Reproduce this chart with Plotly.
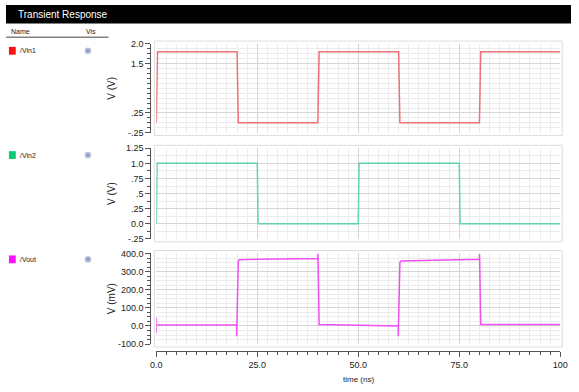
import copy
import plotly.graph_objects as go

W, H = 579, 392

# ---- data ----
vin1_t = [0, 0.3, 20, 20.3, 40, 40.3, 60, 60.3, 80, 80.3, 100]
vin1_v = [0, 1.8, 1.8, 0, 0, 1.8, 1.8, 0, 0, 1.8, 1.8]

vin2_t = [0, 0.2, 25, 25.2, 50, 50.2, 75, 75.2, 100]
vin2_v = [0, 1.0, 1.0, 0, 0, 1.0, 1.0, 0, 0]

vout_t = [0, 0, 0, 0.3, 19.9, 19.9, 20.3, 20.6, 25, 40, 40, 40.05, 40.3, 50, 59.9, 59.9, 60.3, 60.6, 70,
          80, 80, 80.05, 80.3, 100]
vout_v = [-40, 45, 5, 5, 5, -57, 360, 365, 368, 372, 398, 372, 8, 4, 0, -57, 350, 358, 362,
          368, 398, 368, 8, 8]

x_ticks = [0, 25, 50, 75, 100]
x_labels = ["0.0", "25.0", "50.0", "75.0", "100"]
y1_ticks = [2.0, 1.5, 0.25, -0.25]
y1_labels = ["2.0", "1.5", ".25", "-.25"]
y2_ticks = [1.25, 1.0, 0.75, 0.5, 0.25, 0.0, -0.25]
y2_labels = ["1.25", "1.0", ".75", ".5", ".25", "0.0", "-.25"]
y3_ticks = [400, 300, 200, 100, 0, -100]
y3_labels = ["400.0", "300.0", "200.0", "100.0", "0.0", "-100.0"]

names = ["/Vin1", "/Vin2", "/Vout"]
line_colors = ["#f07078", "#62d4a8", "#f050f0"]
swatch_colors = ["#ff1010", "#10c878", "#ff10ff"]

FONT = "Liberation Sans, Arial, sans-serif"

def px(x):
    return x / W

def py(y):
    return 1 - y / H

xl, xr = 154, 568
panels = [(40, 131), (147, 240), (255, 348)]

fig = go.Figure()
axes_pairs = [("x2", "y"), ("x3", "y2"), ("x", "y3")]
series = [(vin1_t, vin1_v), (vin2_t, vin2_v), (vout_t, vout_v)]
for i, (t, v) in enumerate(series):
    fig.add_trace(go.Scatter(x=t, y=v, mode="lines", line=dict(color=line_colors[i], width=1.5),
                             xaxis=axes_pairs[i][0], yaxis=axes_pairs[i][1],
                             showlegend=False, hoverinfo="skip"))

grid_minor = "#ececec"
grid_major = "#d4d4d4"
axcol = "#555555"

xdom = [px(xl), px(xr)]
def common_x():
    return dict(range=[0, 100], domain=xdom, showgrid=True, gridcolor=grid_major, gridwidth=1,
                tickvals=x_ticks, zeroline=False,
                minor=dict(dtick=2.5, showgrid=True, gridcolor=grid_minor))

xa = common_x()
xa.update(anchor="free", position=py(355), ticktext=x_labels,
          showline=True, linecolor=axcol, ticks="outside", ticklen=5, tickcolor=axcol,
          tickfont=dict(size=9))
xa["minor"].update(ticks="outside", ticklen=3, tickcolor=axcol)
xa2 = common_x(); xa2.update(anchor="y", matches="x", showticklabels=False, ticks="")
xa3 = common_x(); xa3.update(anchor="y2", matches="x", showticklabels=False, ticks="")

layout = dict(
    width=W, height=H, margin=dict(l=0, r=0, t=0, b=0),
    paper_bgcolor="white", plot_bgcolor="white",
    font=dict(family=FONT, size=9, color="#222"),
    xaxis=xa, xaxis2=xa2, xaxis3=xa3,
)

yspecs = [([-0.25, 2.0], y1_ticks, y1_labels, 0.125),
          ([-0.25, 1.25], y2_ticks, y2_labels, 0.125),
          ([-100, 400], y3_ticks, y3_labels, 25)]
for i, (rng, tv, tt, mdt) in enumerate(yspecs):
    top, bot = panels[i]
    key = "yaxis" if i == 0 else f"yaxis{i+1}"
    layout[key] = dict(range=rng, domain=[py(bot), py(top)], anchor="free", position=px(148),
                       tickvals=tv, ticktext=tt, showgrid=True, gridcolor=grid_major, zeroline=False,
                       showline=True, linecolor=axcol, ticks="outside", ticklen=5, tickcolor=axcol,
                       tickfont=dict(size=9),
                       minor=dict(dtick=mdt, showgrid=True, gridcolor=grid_minor, ticks="outside",
                                  ticklen=3, tickcolor=axcol))

fig.update_layout(**layout)

shapes = []
annotations = []
shapes.append(dict(type="rect", xref="paper", yref="paper", x0=0, x1=1, y0=py(19), y1=1,
                   fillcolor="black", line=dict(width=0), layer="above"))
annotations.append(dict(text="Transient Response", xref="paper", yref="paper", x=px(10), y=py(10),
                        xanchor="left", yanchor="middle", showarrow=False,
                        font=dict(color="white", size=10, family=FONT)))
annotations.append(dict(text="Name", xref="paper", yref="paper", x=px(3), y=py(27), xanchor="left",
                        yanchor="middle", showarrow=False, font=dict(size=7, family=FONT)))
annotations.append(dict(text="Vis", xref="paper", yref="paper", x=px(80), y=py(27), xanchor="left",
                        yanchor="middle", showarrow=False, font=dict(size=7, family=FONT)))
shapes.append(dict(type="line", xref="paper", yref="paper", x0=0, x1=px(105), y0=py(33), y1=py(33),
                   line=dict(color="#444", width=1)))

for i, top in enumerate([47, 154, 261]):
    shapes.append(dict(type="rect", xref="paper", yref="paper", x0=px(3), x1=px(10),
                       y0=py(top + 4), y1=py(top - 4), fillcolor=swatch_colors[i], line=dict(width=0)))
    annotations.append(dict(text=names[i], xref="paper", yref="paper", x=px(12), y=py(top),
                            xanchor="left", yanchor="middle", showarrow=False,
                            font=dict(size=7, family=FONT)))
    shapes.append(dict(type="circle", xref="paper", yref="paper", x0=px(81), x1=px(87),
                       y0=py(top + 3), y1=py(top - 3), fillcolor="#b4c0dc",
                       line=dict(color="#8898c0", width=0.5)))
    shapes.append(dict(type="circle", xref="paper", yref="paper", x0=px(83), x1=px(85),
                       y0=py(top + 1), y1=py(top - 1), fillcolor="#6878a8", line=dict(width=0)))

ytitles = ["V (V)", "V (V)", "V (mV)"]
for i, (top, bot) in enumerate(panels):
    shapes.append(dict(type="rect", xref="paper", yref="paper", x0=px(xl - 2), x1=px(xr + 2),
                       y0=py(bot + 3), y1=py(top - 3), line=dict(color="#dcdcdc", width=1),
                       layer="below"))
    annotations.append(dict(text=ytitles[i], xref="paper", yref="paper", x=px(108),
                            y=py((top + bot) / 2), xanchor="center", yanchor="middle",
                            textangle=-90, showarrow=False, font=dict(size=10, family=FONT)))

annotations.append(dict(text="time (ns)", xref="paper", yref="paper", x=px((xl + xr) / 2), y=py(384),
                        xanchor="center", yanchor="middle", showarrow=False,
                        font=dict(size=8, family=FONT)))

fig.update_layout(shapes=shapes, annotations=annotations)
fig.write_html("out.html")
